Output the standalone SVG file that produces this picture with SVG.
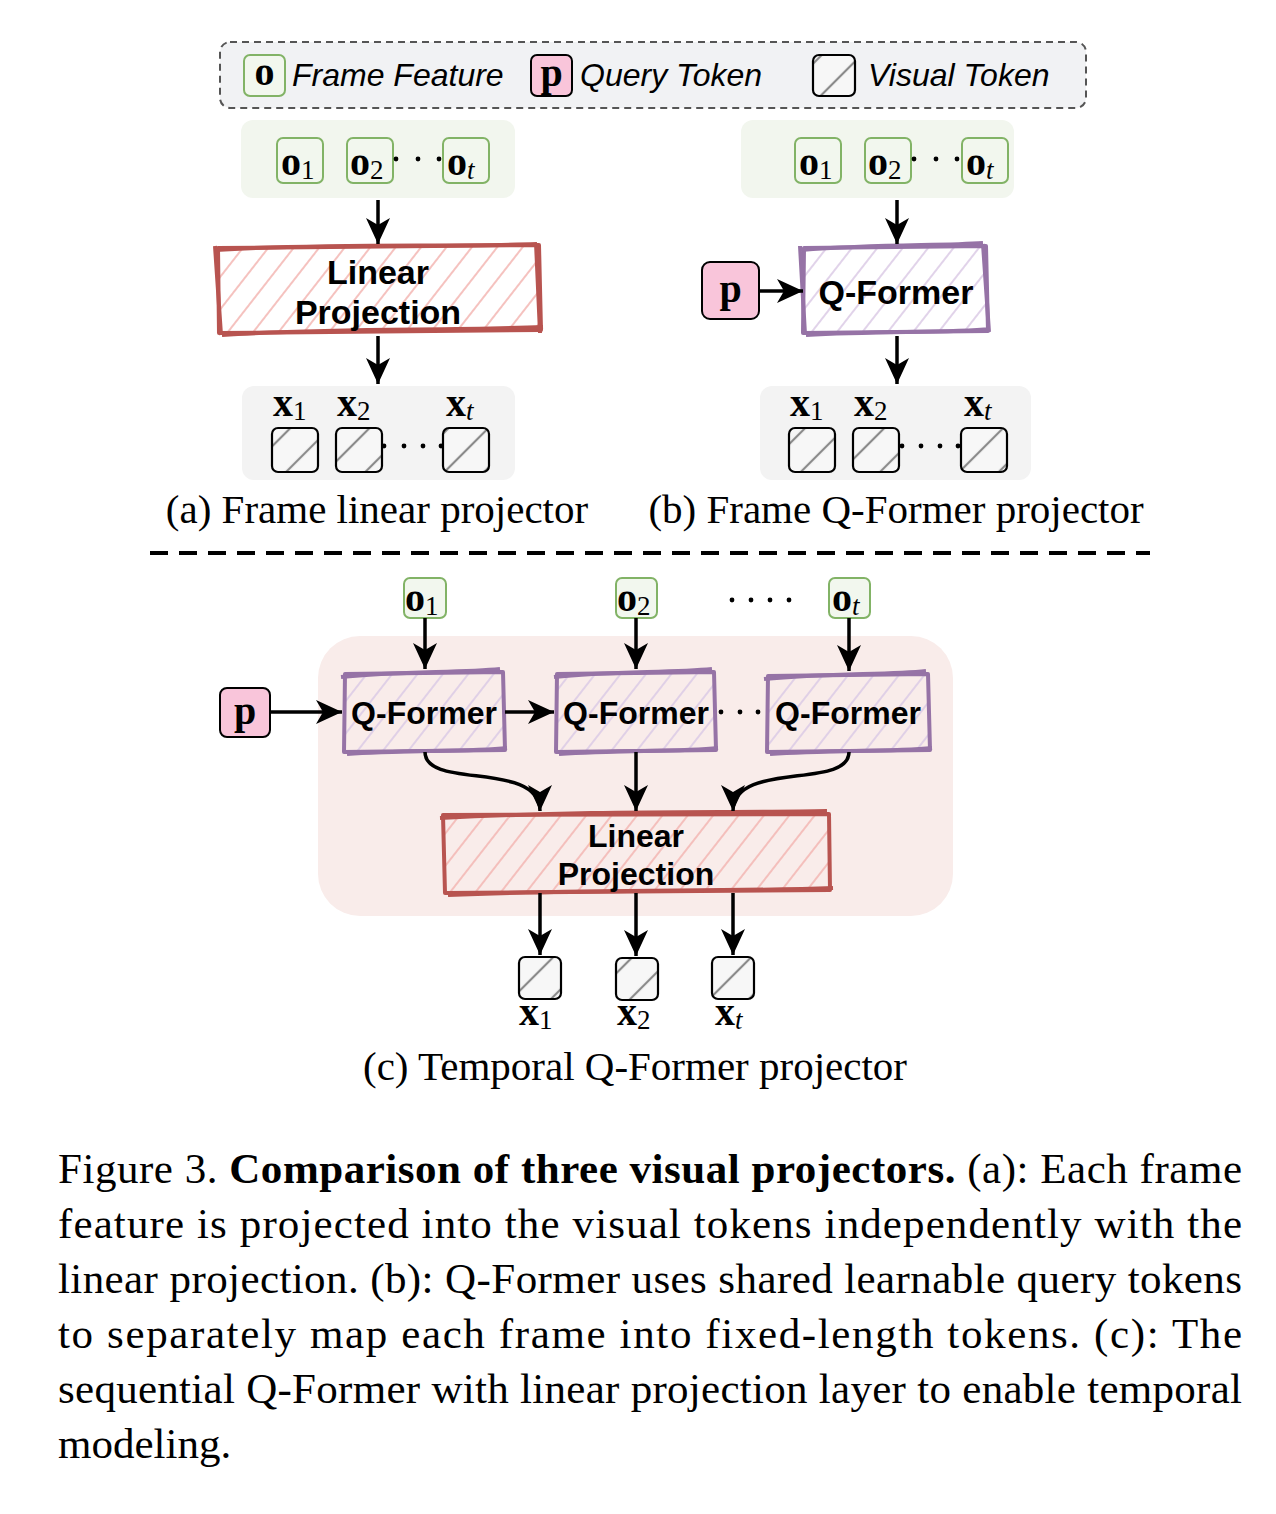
<svg xmlns="http://www.w3.org/2000/svg" width="1276" height="1514" viewBox="0 0 1276 1514">
<style>
.lbl{font-family:"Liberation Sans",Arial,sans-serif;font-style:italic;font-size:32px;fill:#000}
.bt{font-family:"Liberation Sans",Arial,sans-serif;font-weight:bold;font-size:34px;fill:#000;text-anchor:middle}
.bc{font-size:32px}
.m{font-family:"Liberation Serif","Times New Roman",serif;font-weight:bold;font-size:40px;fill:#000}
.sub{font-family:"Liberation Serif","Times New Roman",serif;font-weight:normal;font-size:27px}
.it{font-style:italic}
.cap{font-family:"Liberation Serif","Times New Roman",serif;font-size:41px;fill:#000;text-anchor:middle}
.fig{font-family:"Liberation Serif","Times New Roman",serif;font-size:43px;fill:#000}
.ofeat{fill:#f2f7ee;stroke:#82b366;stroke-width:2}
.pbox{fill:#f9c5da;stroke:#000;stroke-width:2}
.vtok{fill:url(#vt);stroke:#000;stroke-width:2.2}
.red{fill:none;stroke:#b85450;stroke-width:4;stroke-linejoin:round}
.pur{fill:none;stroke:#9673a6;stroke-width:4;stroke-linejoin:round}
.arr{fill:none;stroke:#000;stroke-width:3.5;marker-end:url(#ah)}
.dots{fill:#000}
</style>
<defs>
<marker id="ah" markerWidth="28" markerHeight="28" refX="26" refY="14" orient="auto" markerUnits="userSpaceOnUse">
<path d="M0,2 L26,14 L0,26 L7,14 z" fill="#000"/>
</marker>
<pattern id="hr" patternUnits="userSpaceOnUse" width="20" height="20" patternTransform="rotate(38)">
<line x1="4" y1="0" x2="4" y2="20" stroke="#f4b7b4" stroke-width="1.7"/>
</pattern>
<pattern id="hp" patternUnits="userSpaceOnUse" width="20" height="20" patternTransform="rotate(38)">
<line x1="4" y1="0" x2="4" y2="20" stroke="#dccbe6" stroke-width="1.7"/>
</pattern>
<pattern id="vt" patternUnits="userSpaceOnUse" width="28" height="28" patternTransform="rotate(-45)">
<rect width="28" height="28" fill="#f7f7f7"/>
<line x1="0" y1="4" x2="28" y2="4" stroke="#8a8a8a" stroke-width="2.2"/>
</pattern>
</defs>

<!-- Legend -->
<g id="legend">
<rect x="220" y="42" width="866" height="66" rx="10" fill="#f1f2f4" stroke="#555" stroke-width="2" stroke-dasharray="7 5"/>
<rect class="ofeat" x="244" y="55" width="41" height="41" rx="6"/>
<text class="m" x="264.5" y="85" text-anchor="middle" font-size="34">o</text>
<text class="lbl" x="292" y="86">Frame Feature</text>
<rect class="pbox" x="531" y="55" width="41" height="41" rx="6"/>
<text class="m" x="551.5" y="86" text-anchor="middle" font-size="34">p</text>
<text class="lbl" x="580" y="86">Query Token</text>
<rect class="vtok" x="813" y="55" width="42" height="41" rx="6"/>
<text class="lbl" x="868" y="86">Visual Token</text>
</g>

<!-- Panel (a) -->
<g id="a-frames">
<rect x="241" y="120" width="274" height="78" rx="12" fill="#f2f6ee"/>
<rect class="ofeat" x="277" y="138" width="46" height="45" rx="6"/>
<text class="m" x="281" y="175">o<tspan class="sub" dy="4">1</tspan></text>
<rect class="ofeat" x="347" y="138" width="46" height="45" rx="6"/>
<text class="m" x="350" y="175">o<tspan class="sub" dy="4">2</tspan></text>
<circle class="dots" cx="396" cy="159" r="2.4"/><circle class="dots" cx="418" cy="159" r="2.4"/><circle class="dots" cx="439" cy="159" r="2.4"/>
<rect class="ofeat" x="443" y="138" width="46" height="45" rx="6"/>
<text class="m" x="447" y="175">o<tspan class="sub it" dy="4">t</tspan></text>
</g>
<g id="a-linear">
<rect x="218" y="246" width="322" height="86" fill="url(#hr)"/>
<path class="red" d="M218,248 L539,245 L541,330 L219,333 Z"/>
<path class="red" stroke-width="2" d="M216,250 C320,243 450,247 537,244 M222,335 C330,328 450,331 543,327 M215,246 L221,335 M536,243 L540,333"/>
<text class="bt" x="378" y="284">Linear</text>
<text class="bt" x="378" y="324">Projection</text>
</g>
<g id="a-tokens">
<rect x="242" y="386" width="273" height="94" rx="12" fill="#f3f3f3"/>
<text class="m" x="273" y="416" font-size="38">x<tspan class="sub" dy="4">1</tspan></text>
<text class="m" x="337" y="416" font-size="38">x<tspan class="sub" dy="4">2</tspan></text>
<text class="m" x="446" y="416" font-size="38">x<tspan class="sub it" dy="4">t</tspan></text>
<rect class="vtok" x="272" y="428" width="46" height="44" rx="6"/>
<rect class="vtok" x="336" y="428" width="46" height="44" rx="6"/>
<circle class="dots" cx="384" cy="446" r="2.4"/><circle class="dots" cx="404" cy="446" r="2.4"/><circle class="dots" cx="423" cy="446" r="2.4"/><circle class="dots" cx="441" cy="446" r="2.4"/>
<rect class="vtok" x="443" y="428" width="46" height="44" rx="6"/>
</g>
<text class="cap" x="377" y="523">(a) Frame linear projector</text>

<!-- Panel (b) -->
<g id="b-frames">
<rect x="741" y="120" width="273" height="78" rx="12" fill="#f2f6ee"/>
<rect class="ofeat" x="795" y="138" width="46" height="45" rx="6"/>
<text class="m" x="799" y="175">o<tspan class="sub" dy="4">1</tspan></text>
<rect class="ofeat" x="865" y="138" width="46" height="45" rx="6"/>
<text class="m" x="868" y="175">o<tspan class="sub" dy="4">2</tspan></text>
<circle class="dots" cx="914" cy="159" r="2.4"/><circle class="dots" cx="936" cy="159" r="2.4"/><circle class="dots" cx="957" cy="159" r="2.4"/>
<rect class="ofeat" x="962" y="138" width="46" height="45" rx="6"/>
<text class="m" x="966" y="175">o<tspan class="sub it" dy="4">t</tspan></text>
</g>
<g id="b-p">
<rect class="pbox" x="702" y="262" width="57" height="57" rx="8"/>
<text class="m" x="730.5" y="302" text-anchor="middle">p</text>
</g>
<g id="b-qformer">
<rect x="804" y="247" width="183" height="84" fill="url(#hp)"/>
<path class="pur" d="M804,248 L986,246 L988,331 L803,333 Z"/>
<path class="pur" stroke-width="2" d="M801,250 C880,244 940,246 983,243 M806,335 C880,331 950,333 990,329 M800,246 L805,334 M983,244 L989,332"/>
<text class="bt" x="896" y="304">Q-Former</text>
</g>
<g id="b-tokens">
<rect x="760" y="386" width="271" height="94" rx="12" fill="#f3f3f3"/>
<text class="m" x="790" y="416" font-size="38">x<tspan class="sub" dy="4">1</tspan></text>
<text class="m" x="854" y="416" font-size="38">x<tspan class="sub" dy="4">2</tspan></text>
<text class="m" x="964" y="416" font-size="38">x<tspan class="sub it" dy="4">t</tspan></text>
<rect class="vtok" x="789" y="428" width="46" height="44" rx="6"/>
<rect class="vtok" x="853" y="428" width="46" height="44" rx="6"/>
<circle class="dots" cx="902" cy="446" r="2.4"/><circle class="dots" cx="921" cy="446" r="2.4"/><circle class="dots" cx="940" cy="446" r="2.4"/><circle class="dots" cx="958" cy="446" r="2.4"/>
<rect class="vtok" x="961" y="428" width="46" height="44" rx="6"/>
</g>
<text class="cap" x="896" y="523">(b) Frame Q-Former projector</text>

<line x1="150" y1="553" x2="1150" y2="553" stroke="#000" stroke-width="4" stroke-dasharray="18 11"/>

<!-- Panel (c) -->
<rect id="c-bg" x="318" y="636" width="635" height="280" rx="42" fill="#f9ecea"/>
<g id="c-frames">
<rect class="ofeat" x="404" y="578" width="42" height="40" rx="6"/>
<text class="m" x="405" y="611" font-size="37">o<tspan class="sub" dy="4" font-size="25">1</tspan></text>
<rect class="ofeat" x="616" y="578" width="41" height="40" rx="6"/>
<text class="m" x="617" y="611" font-size="37">o<tspan class="sub" dy="4" font-size="25">2</tspan></text>
<circle class="dots" cx="732" cy="600" r="2.4"/><circle class="dots" cx="751" cy="600" r="2.4"/><circle class="dots" cx="770" cy="600" r="2.4"/><circle class="dots" cx="789" cy="600" r="2.4"/>
<rect class="ofeat" x="829" y="578" width="41" height="40" rx="6"/>
<text class="m" x="832" y="611" font-size="37">o<tspan class="sub it" dy="4" font-size="25">t</tspan></text>
</g>
<g id="c-p">
<rect class="pbox" x="220" y="688" width="50" height="49" rx="7"/>
<text class="m" x="245" y="724" text-anchor="middle" font-size="38">p</text>
</g>
<g id="c-qf1">
<rect x="345" y="673" width="159" height="78" fill="url(#hp)"/>
<path class="pur" d="M345,674 L503,672 L505,750 L344,752 Z"/>
<path class="pur" stroke-width="2" d="M341,677 C400,671 460,673 500,669 M347,754 C400,750 470,752 507,748"/>
<text class="bt bc" x="424" y="724">Q-Former</text>
</g>
<g id="c-qf2">
<rect x="558" y="673" width="156" height="78" fill="url(#hp)"/>
<path class="pur" d="M557,674 L714,672 L716,750 L556,752 Z"/>
<path class="pur" stroke-width="2" d="M554,677 C610,671 670,673 712,669 M559,754 C620,750 680,752 718,748"/>
<text class="bt bc" x="636" y="724">Q-Former</text>
</g>
<g id="c-qf3">
<rect x="768" y="675" width="161" height="76" fill="url(#hp)"/>
<path class="pur" d="M768,676 L928,674 L930,750 L767,752 Z"/>
<path class="pur" stroke-width="2" d="M764,679 C830,673 890,675 926,671 M770,754 C830,750 890,752 932,748"/>
<text class="bt bc" x="848" y="724">Q-Former</text>
</g>
<circle class="dots" cx="721" cy="712" r="2.4"/><circle class="dots" cx="740" cy="712" r="2.4"/><circle class="dots" cx="758" cy="712" r="2.4"/>
<g id="c-linear">
<rect x="443" y="814" width="387" height="78" fill="url(#hr)"/>
<path class="red" d="M443,815 L829,814 L830,890 L445,893 Z"/>
<path class="red" stroke-width="2" d="M440,818 C600,810 720,813 827,811 M448,895 C600,889 720,892 833,888"/>
<text class="bt bc" x="636" y="847">Linear</text>
<text class="bt bc" x="636" y="885">Projection</text>
</g>
<g id="c-tokens">
<rect class="vtok" x="519" y="957" width="42" height="42" rx="6"/>
<rect class="vtok" x="616" y="958" width="42" height="42" rx="6"/>
<rect class="vtok" x="712" y="957" width="42" height="42" rx="6"/>
<text class="m" x="519" y="1025" font-size="36">x<tspan class="sub" dy="4" font-size="25">1</tspan></text>
<text class="m" x="617" y="1025" font-size="36">x<tspan class="sub" dy="4" font-size="25">2</tspan></text>
<text class="m" x="715" y="1025" font-size="36">x<tspan class="sub it" dy="4" font-size="25">t</tspan></text>
</g>
<text class="cap" x="635" y="1080">(c) Temporal Q-Former projector</text>

<!-- Connectors -->
<g id="connectors">
<path class="arr" d="M378,200 L378,244"/>
<path class="arr" d="M378,336 L378,384"/>
<path class="arr" d="M897,200 L897,244"/>
<path class="arr" d="M759,291 L803,291"/>
<path class="arr" d="M897,336 L897,384"/>
<path class="arr" d="M425,618 L425,669"/>
<path class="arr" d="M636,618 L636,669"/>
<path class="arr" d="M849,618 L849,671"/>
<path class="arr" d="M270,712 L342,712"/>
<path class="arr" d="M505,712 L554,712"/>
<path class="arr" d="M425,752 C425,790 540,760 540,811"/>
<path class="arr" d="M636,752 L636,811"/>
<path class="arr" d="M849,752 C849,790 733,760 733,811"/>
<path class="arr" d="M540,893 L540,955"/>
<path class="arr" d="M636,893 L636,956"/>
<path class="arr" d="M733,893 L733,955"/>
</g>

<!-- Figure caption -->
<g id="caption">
<text class="fig" x="58" y="1183" textLength="1184" lengthAdjust="spacing">Figure 3. <tspan font-weight="bold">Comparison of three visual projectors.</tspan> (a): Each frame</text>
<text class="fig" x="58" y="1238" textLength="1184" lengthAdjust="spacing">feature is projected into the visual tokens independently with the</text>
<text class="fig" x="58" y="1293" textLength="1184" lengthAdjust="spacing">linear projection. (b): Q-Former uses shared learnable query tokens</text>
<text class="fig" x="58" y="1348" textLength="1184" lengthAdjust="spacing">to separately map each frame into fixed-length tokens.  (c):  The</text>
<text class="fig" x="58" y="1403" textLength="1184" lengthAdjust="spacing">sequential Q-Former with linear projection layer to enable temporal</text>
<text class="fig" x="58" y="1458">modeling.</text>
</g>
</svg>
